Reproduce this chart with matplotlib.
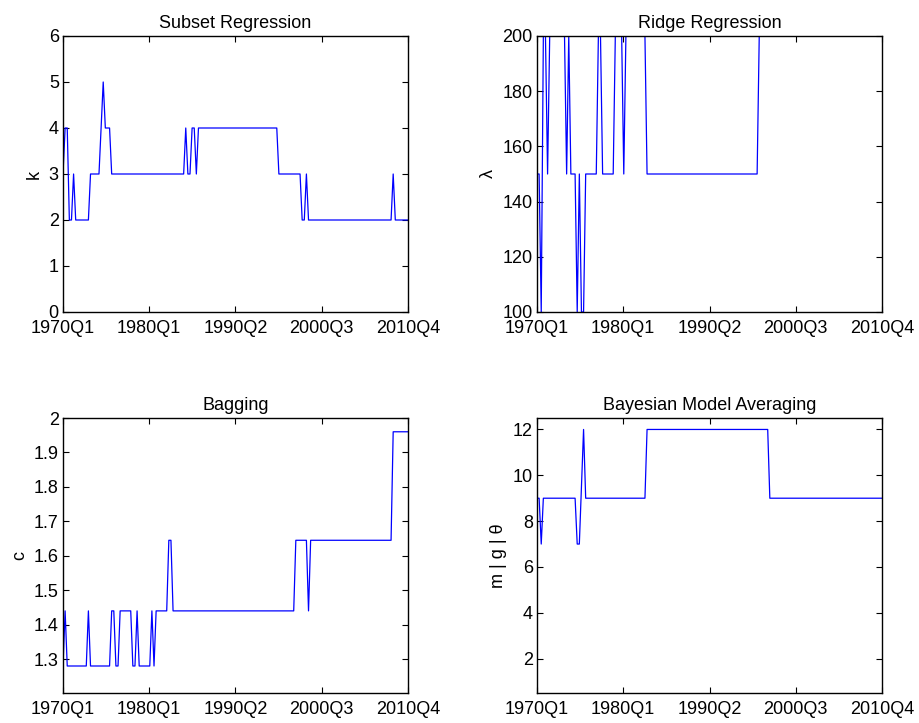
import numpy as np
import matplotlib
matplotlib.use("Agg")
import matplotlib.pyplot as plt

plt.rcParams['font.family'] = ['Liberation Sans', 'DejaVu Sans']
plt.rcParams['font.size'] = 13

# quarterly sample 1970Q1 .. 2010Q4 (164 quarters)
n_q = 164
tick_labels = ['1970Q1', '1980Q1', '1990Q2', '2000Q3', '2010Q4']

# values stored as (level, number of quarters) runs
k_vals = [3, 4, 2, 3, 2, 3, 4, 5, 4, 3, 4, 3, 4, 3, 4, 3, 2, 3, 2, 3, 2]
k_runs = [1, 2, 2, 1, 7, 5, 1, 1, 3, 35, 1, 2, 2, 1, 38, 11, 2, 1, 40, 1, 7]

lam_vals = [150, 100, 200, 150, 200, 150, 200, 150, 100, 150, 100, 150, 200, 150, 200, 150, 200, 150, 200]
lam_runs = [2, 1, 2, 1, 8, 1, 1, 3, 1, 1, 2, 6, 2, 6, 4, 1, 10, 53, 59]

c_vals = [1.28, 1.44, 1.28, 1.44, 1.28, 1.44, 1.28, 1.44, 1.28, 1.44, 1.28, 1.44, 1.28,
          1.44, 1.645, 1.44, 1.645, 1.44, 1.645, 1.96]
c_runs = [1, 1, 10, 1, 10, 2, 2, 6, 2, 1, 6, 1, 1, 6, 2, 58, 6, 1, 39, 8]

m_vals = [9, 7, 9, 7, 9.5, 12, 9, 12, 9]
m_runs = [2, 1, 16, 2, 1, 1, 29, 58, 54]

k = np.repeat(k_vals, k_runs)
lam = np.repeat(lam_vals, lam_runs)
c = np.repeat(c_vals, c_runs)
m = np.repeat(m_vals, m_runs)
x = np.arange(n_q)

fig = plt.figure(figsize=(9.19, 7.23), dpi=100)
W, H = 919, 723
boxes = [(63, 36, 345, 276), (537, 36, 345, 276), (63, 418, 345, 275), (537, 418, 345, 275)]
axs = [fig.add_axes([l / W, 1 - (t + h) / H, w / W, h / H]) for l, t, w, h in boxes]

panels = [
    (k, 'Subset Regression', 'k', (0, 6), np.arange(0, 7, 1), None),
    (lam, 'Ridge Regression', 'λ', (100, 200), np.arange(100, 201, 20), None),
    (c, 'Bagging', 'c', (1.2016, 2.0), np.arange(1.3, 2.01, 0.1),
     ['1.3', '1.4', '1.5', '1.6', '1.7', '1.8', '1.9', '2']),
    (m, 'Bayesian Model Averaging', 'm | g | θ', (0.5, 12.5), np.arange(2, 13, 2), None),
]

for ax, (y, title, ylab, ylim, yt, ytl) in zip(axs, panels):
    ax.plot(x, y, color='blue', lw=0.9)
    ax.set_xlim(0, n_q - 1)
    ax.set_ylim(*ylim)
    ax.set_xticks(np.linspace(0, n_q - 1, 5))
    ax.set_xticklabels(tick_labels)
    ax.set_yticks(yt)
    if ytl is not None:
        ax.set_yticklabels(ytl)
    ax.set_title(title, fontsize=13, pad=6)
    ax.set_ylabel(ylab)
    ax.tick_params(direction='in', top=True, right=True, length=4, width=0.8, pad=3)
    ax.tick_params(axis='x', pad=6)
    for s in ax.spines.values():
        s.set_linewidth(1.0)

fig.savefig('out.png', dpi=100)
